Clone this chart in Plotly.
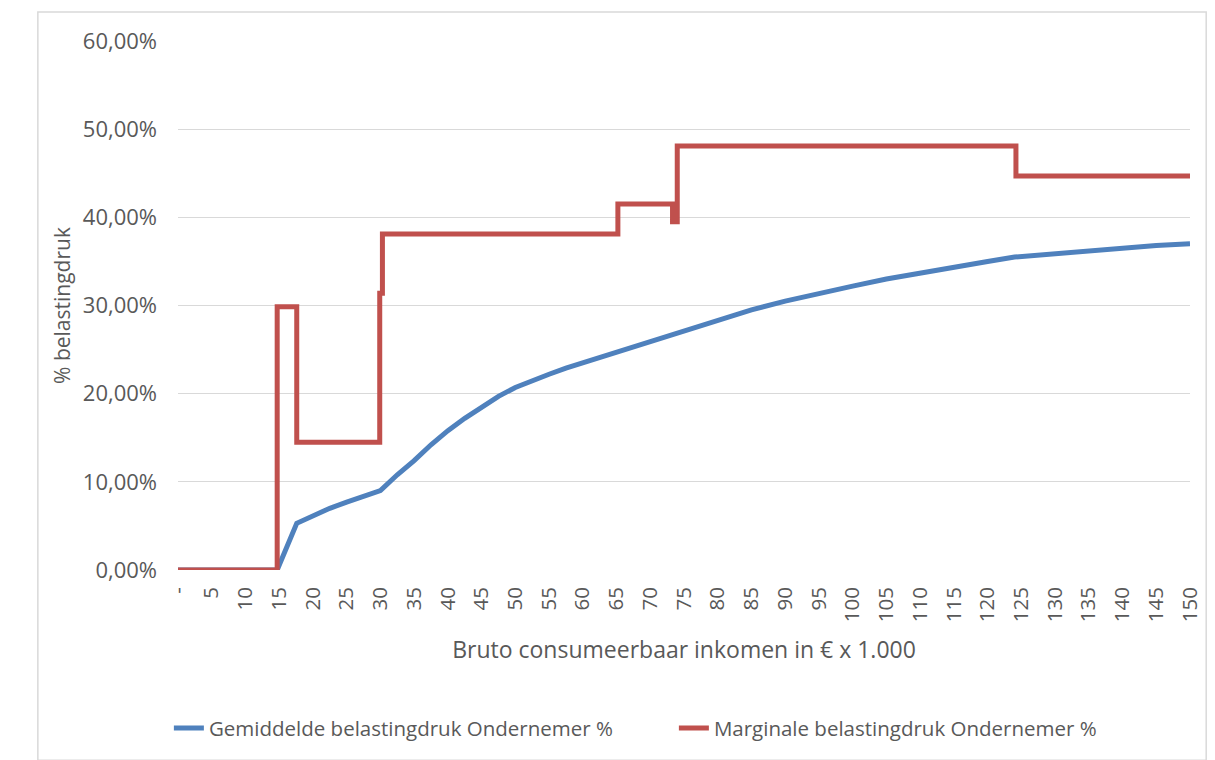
import plotly.graph_objects as go

# Bruto consumeerbaar inkomen (x 1.000 euro)
inkomen_gem = [0, 14.7, 17.6, 20, 22.5, 25, 27.5, 30, 32.5, 35, 37.5, 40, 42.5, 45, 47.5,
               50, 52.5, 55, 57.5, 60, 65, 70, 74, 77.5, 80, 85, 90, 95, 100, 105, 110,
               115, 120, 124, 130, 135, 140, 145, 150]
# Gemiddelde belastingdruk (fractie)
gemiddeld = [0.0, 0.0, 0.053, 0.062, 0.070, 0.077, 0.084, 0.090, 0.108, 0.124, 0.142,
             0.158, 0.172, 0.185, 0.197, 0.207, 0.215, 0.222, 0.229, 0.235, 0.247,
             0.258, 0.268, 0.276, 0.283, 0.295, 0.305, 0.314, 0.322, 0.330, 0.337,
             0.344, 0.350, 0.355, 0.359, 0.362, 0.365, 0.368, 0.370]

# Marginale belastingdruk: trapfunctie, waarde geldt vanaf het breekpunt
inkomen_marg = [0, 14.7, 17.6, 29.9, 30.3, 65.2, 73.3, 74.0, 124.2, 150]
marginaal = [0.0, 0.2985, 0.145, 0.314, 0.381, 0.415, 0.395, 0.481, 0.447, 0.447]

tick_waarden = list(range(0, 151, 5))
tick_labels = ["-"] + [str(v) for v in tick_waarden[1:]]

FONT = "Open Sans"
GRIJS = "#595959"

fig = go.Figure()
fig.add_trace(go.Scatter(
    x=inkomen_gem, y=gemiddeld, mode="lines",
    name="Gemiddelde belastingdruk Ondernemer %",
    line=dict(color="#4F81BD", width=5),
))
fig.add_trace(go.Scatter(
    x=inkomen_marg, y=marginaal, mode="lines", line_shape="hv",
    name="Marginale belastingdruk Ondernemer %",
    line=dict(color="#C0504D", width=5),
))

fig.update_layout(
    width=1215, height=760,
    paper_bgcolor="white", plot_bgcolor="white",
    separators=",.",
    margin=dict(l=178, r=25, t=41, b=190),
    font=dict(family=FONT, size=20, color=GRIJS),
    showlegend=True,
    legend=dict(orientation="h", x=0.49, xanchor="center", y=-0.299, yanchor="middle",
                font=dict(size=20.5, color=GRIJS),
                traceorder="normal", entrywidth=460),
    xaxis=dict(
        range=[0, 150], tickmode="array", tickvals=tick_waarden, ticktext=tick_labels,
        tickangle=-90, showgrid=False, zeroline=False, showline=False,
        ticks="", ticklabelstandoff=12, tickfont=dict(size=20.5),
        title=dict(text="Bruto consumeerbaar inkomen in € x 1.000", standoff=20,
                   font=dict(size=23, color=GRIJS)),
    ),
    yaxis=dict(
        range=[0, 0.6], tickvals=[0, 0.1, 0.2, 0.3, 0.4, 0.5, 0.6], tickformat=".2%",
        showgrid=True, gridcolor="#D9D9D9", gridwidth=1.3, zeroline=False,
        showline=False, ticks="", ticklabelstandoff=20, tickfont=dict(size=22),
        title=dict(text="% belastingdruk", standoff=6, font=dict(size=21, color=GRIJS)),
    ),
    shapes=[dict(type="rect", xref="paper", yref="paper", x0=-0.1385, x1=1.016,
                 y0=-0.3597, y1=1.0548, line=dict(color="#D9D9D9", width=1.5),
                 layer="below")],
)

fig.write_html("out.html")
